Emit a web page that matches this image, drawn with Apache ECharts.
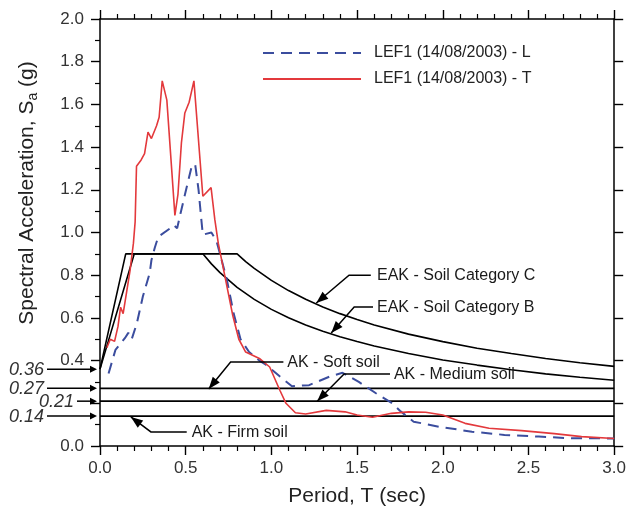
<!DOCTYPE html>
<html><head><meta charset="utf-8">
<script src="https://cdn.jsdelivr.net/npm/echarts@6/dist/echarts.min.js"></script>
<style>html,body{margin:0;padding:0;background:#fff}#c{width:629px;height:512px}</style>
</head><body><div id="c"></div>
<script>
// ---- data ----
const nameL = 'LEF1 (14/08/2003) - L';
const nameT = 'LEF1 (14/08/2003) - T';
const periodT = [0.04,0.06,0.085,0.105,0.12,0.135,0.155,0.175,0.195,0.205,0.213,0.24,0.26,0.28,0.30,0.33,0.345,0.363,0.39,0.437,0.455,0.475,0.495,0.52,0.548,0.60,0.648,0.67,0.69,0.73,0.775,0.81,0.85,0.93,0.99,1.05,1.085,1.14,1.2,1.32,1.43,1.5,1.59,1.70,1.80,1.90,2.0,2.13,2.27,2.46,2.65,2.81,3.0];
const saT     = [0.46,0.50,0.49,0.56,0.65,0.62,0.72,0.82,0.95,1.05,1.31,1.34,1.37,1.47,1.44,1.50,1.54,1.71,1.62,1.08,1.18,1.42,1.56,1.61,1.71,1.17,1.21,1.06,0.95,0.79,0.61,0.50,0.44,0.41,0.37,0.26,0.20,0.156,0.15,0.167,0.16,0.145,0.135,0.153,0.16,0.158,0.145,0.106,0.083,0.072,0.058,0.044,0.035];
const periodL = [0.05,0.09,0.145,0.165,0.185,0.215,0.25,0.29,0.30,0.32,0.34,0.41,0.43,0.45,0.47,0.505,0.535,0.555,0.575,0.59,0.60,0.65,0.68,0.70,0.74,0.78,0.82,0.87,0.93,0.97,1.05,1.12,1.22,1.34,1.415,1.51,1.61,1.705,1.75,1.83,1.98,2.17,2.36,2.56,2.75,2.89,3.0];
const saL     = [0.34,0.45,0.505,0.53,0.50,0.575,0.70,0.81,0.87,0.93,0.98,1.02,1.035,1.02,1.09,1.21,1.31,1.32,1.20,1.07,0.99,1.0,0.96,0.90,0.78,0.62,0.50,0.44,0.40,0.38,0.325,0.28,0.285,0.325,0.343,0.30,0.247,0.20,0.165,0.114,0.09,0.067,0.052,0.044,0.036,0.036,0.035];
const eakBT  = [0,0.15,0.6,0.65,0.7,0.8,0.9,1.0,1.1,1.2,1.3,1.4,1.5,1.6,1.8,2.0,2.2,2.4,2.6,2.8,3.0];
const eakBSa = [0.36,0.9,0.9,0.853,0.812,0.743,0.687,0.640,0.601,0.567,0.537,0.512,0.489,0.468,0.433,0.403,0.379,0.357,0.338,0.322,0.308];
const eakCT  = [0,0.2,0.8,0.85,0.9,1.0,1.1,1.2,1.3,1.4,1.5,1.6,1.8,2.0,2.2,2.4,2.6,2.8,3.0];
const eakCSa = [0.36,0.9,0.9,0.864,0.832,0.776,0.728,0.687,0.651,0.620,0.592,0.567,0.524,0.489,0.458,0.433,0.410,0.390,0.373];
const akLevels = [0.27, 0.21, 0.14];
const leftValueLabels = [0.36, 0.27, 0.21, 0.14];
const hiddenYLabels = [0.2];

// ---- annotation anchors (data coordinates) ----
const annotations = [
  {text:'EAK - Soil Category C', at:[1.616,0.80], path:[[1.58,0.80],[1.453,0.80],[1.262,0.67]]},
  {text:'EAK - Soil Category B', at:[1.616,0.646], path:[[1.593,0.651],[1.483,0.651],[1.349,0.529]]},
  {text:'AK - Soft soil', at:[1.093,0.393], path:[[1.07,0.393],[0.762,0.393],[0.634,0.267]]},
  {text:'AK - Medium soil', at:[1.715,0.333], path:[[1.692,0.337],[1.424,0.337],[1.267,0.21]]},
  {text:'AK - Firm soil', at:[0.535,0.061], path:[[0.506,0.066],[0.297,0.066],[0.18,0.136]]}
];

const FONT = '"Liberation Sans", Arial, Helvetica, sans-serif';
const zip = (a,b) => a.map((x,i)=>[x,b[i]]);
const chart = echarts.init(document.getElementById('c'), null, {renderer:'canvas'});

const blackLine = {color:'#000', width:1.6};
function axisCommon(minor) {
  return {
    axisLine:{show:true, onZero:false, lineStyle:{color:'#000', width:1.5}},
    axisTick:{show:true, inside:false, length:9, lineStyle:{color:'#000', width:1.4}},
    minorTick:{show:minor, length:5, lineStyle:{color:'#000', width:1.2}},
    splitLine:{show:false}, minorSplitLine:{show:false}
  };
}
const xBottom = Object.assign({type:'value', min:0, max:3, interval:0.5, position:'bottom',
  name:'Period, T (sec)', nameLocation:'middle', nameGap:40,
  nameTextStyle:{fontSize:21, color:'#222', fontFamily:FONT},
  axisLabel:{formatter:v=>v.toFixed(1), fontSize:17, color:'#333', margin:14, fontFamily:FONT}}, axisCommon(true));
xBottom.minorTick.splitNumber = 5;
const xTop = Object.assign({type:'value', min:0, max:3, interval:0.5, position:'top', axisLabel:{show:false}}, axisCommon(true));
xTop.minorTick.splitNumber = 5;
const yLeft = Object.assign({type:'value', min:0, max:2, interval:0.2, position:'left',
  axisLabel:{formatter:v=>hiddenYLabels.some(h=>Math.abs(h-v)<1e-6)?'':v.toFixed(1), fontSize:17, color:'#333', margin:16, fontFamily:FONT}}, axisCommon(true));
yLeft.minorTick.splitNumber = 2;
const yRight = Object.assign({type:'value', min:0, max:2, interval:0.2, position:'right', axisLabel:{show:false}}, axisCommon(false));

const series = [];
series.push({type:'line', name:'EAK C', data:zip(eakCT,eakCSa), symbol:'none', lineStyle:blackLine, z:2});
series.push({type:'line', name:'EAK B', data:zip(eakBT,eakBSa), symbol:'none', lineStyle:blackLine, z:2});
akLevels.forEach((v,i)=>series.push({type:'line', name:'AK'+i, data:[[0,v],[3,v]], symbol:'none', lineStyle:blackLine, z:2}));
series.push({type:'line', name:nameL, data:zip(periodL,saL), symbol:'none', color:'#3b4d9e',
  lineStyle:{color:'#3b4d9e', width:2, type:[11,7]}, z:3});
series.push({type:'line', name:nameT, data:zip(periodT,saT), symbol:'none', color:'#e3393c',
  lineStyle:{color:'#e3393c', width:1.6}, z:4});

chart.setOption({
  animation:false,
  grid:{left:100, right:13, top:19, bottom:66, containLabel:false},
  xAxis:[xBottom, xTop],
  yAxis:[yLeft, yRight],
  legend:{data:[nameL,nameT], orient:'vertical', left:262, top:45, padding:0, itemWidth:98, itemHeight:14, itemGap:10,
    itemStyle:{opacity:0, borderWidth:0},
    textStyle:{fontSize:16, color:'#222', fontFamily:FONT, padding:[0,0,0,8]}},
  series:series
});

function px(t,v){return chart.convertToPixel({gridIndex:0},[t,v]);}
function arrowHead(tip, from, L, W){
  const dx=tip[0]-from[0], dy=tip[1]-from[1], d=Math.hypot(dx,dy)||1;
  const ux=dx/d, uy=dy/d, bx=tip[0]-ux*L, by=tip[1]-uy*L;
  return [[tip[0],tip[1]],[bx-uy*W,by+ux*W],[bx+uy*W,by-ux*W]];
}
const g = [];
annotations.forEach(a=>{
  const pts = a.path.map(p=>px(p[0],p[1]));
  const tip = pts[pts.length-1], prev = pts[pts.length-2];
  g.push({type:'polyline', shape:{points:pts}, style:{stroke:'#000', lineWidth:1.5, fill:null}, z:10});
  g.push({type:'polygon', shape:{points:arrowHead(tip,prev,12,4.5)}, style:{fill:'#000'}, z:10});
  const at = px(a.at[0],a.at[1]);
  g.push({type:'text', x:at[0], y:at[1], style:{text:a.text, fontSize:16, fontFamily:FONT, fill:'#1a1a1a', align:'left', verticalAlign:'middle'}, z:10});
});
leftValueLabels.forEach(v=>{
  const p = px(0,v);
  const shifted = (v===0.21);
  const x1 = p[0]-(shifted?23:53), x2 = p[0]-3;
  g.push({type:'line', shape:{x1:x1, y1:p[1], x2:x2-4, y2:p[1]}, style:{stroke:'#000', lineWidth:1.5}, z:10});
  g.push({type:'polygon', shape:{points:arrowHead([x2,p[1]],[x1,p[1]],7,3.5)}, style:{fill:'#000'}, z:10});
  g.push({type:'text', x:p[0]-(shifted?26:56), y:p[1]+1, style:{text:v.toFixed(2), fontSize:18, fontStyle:'italic', fontFamily:FONT, fill:'#333', align:'right', verticalAlign:'middle'}, z:10});
});
g.push({type:'text', x:27, y:193, rotation:Math.PI/2, style:{
  text:'{n|Spectral Acceleration, S}{s|a}{n| (g)}', align:'center', verticalAlign:'middle',
  rich:{n:{fontSize:21, fontFamily:FONT, fill:'#222', lineHeight:26, verticalAlign:'middle'},
        s:{fontSize:14, fontFamily:FONT, fill:'#222', lineHeight:14, verticalAlign:'bottom'}}}, z:10});
chart.setOption({graphic:{elements:g}});
</script>
</body></html>
